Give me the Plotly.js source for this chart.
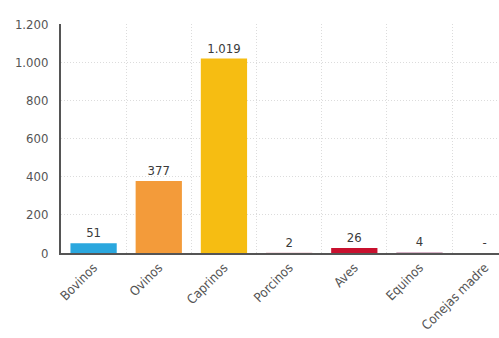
<!DOCTYPE html>
<html><head><meta charset="utf-8">
<script src="https://cdn.plot.ly/plotly-3.0.1.min.js"></script>
<style>html,body{margin:0;padding:0;background:#fff;}#chart{width:499px;height:338px;}</style>
</head><body><div id="chart"></div>
<script>
var categories = ["Bovinos","Ovinos","Caprinos","Porcinos","Aves","Equinos","Conejas madre"];
var values = [51, 377, 1019, 2, 26, 4, 0];
var labels = ["51","377","1.019","2","26","4","-"];
var colors = ["#2aa7de","#f39b3a","#f6bd12","#e8c0ca","#c8102e","#c89ab4","#cccccc"];

var FONT = "'Liberation Sans Narrow', 'DejaVu Sans Condensed', sans-serif";
var trace = {
  type: "bar",
  x: categories,
  y: values,
  marker: {color: colors},
  text: labels,
  textposition: "outside",
  cliponaxis: false,
  textfont: {family: FONT, size: 13, color: "#3a3a3a"},
  hoverinfo: "none"
};
var layout = {
  width: 499, height: 338,
  margin: {l: 61, r: 0, t: 24, b: 85},
  paper_bgcolor: "#fff", plot_bgcolor: "#fff",
  separators: ",.",
  bargap: 0.29,
  showlegend: false,
  font: {family: FONT, size: 12, color: "#555"},
  xaxis: {
    type: "category",
    range: [-0.5, 6.22],
    tickson: "boundaries",
    ticks: "",
    showgrid: true, gridcolor: "#dcdcdc", griddash: "1px,2px", gridwidth: 1,
    showline: true, linecolor: "#555", linewidth: 2,
    tickangle: -45,
    tickfont: {family: FONT, size: 13, color: "#555"},
    fixedrange: true
  },
  yaxis: {
    range: [0, 1200],
    dtick: 200,
    separatethousands: true,
    showgrid: true, gridcolor: "#dcdcdc", griddash: "1px,2px", gridwidth: 1,
    showline: true, linecolor: "#555", linewidth: 2,
    zeroline: false,
    ticks: "", ticklen: 0,
    ticklabelstandoff: 8,
    tickfont: {family: FONT, size: 13, color: "#555"},
    fixedrange: true
  }
};
Plotly.newPlot("chart", [trace], layout, {displayModeBar: false, staticPlot: true});
</script></body></html>
